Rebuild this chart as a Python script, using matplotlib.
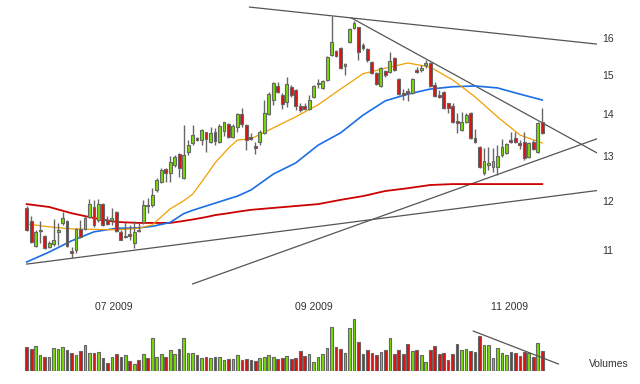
"""Daily candlesticks with moving averages, trend lines and a volume panel."""

import matplotlib

matplotlib.use("Agg")
import matplotlib.pyplot as plt
from matplotlib.ticker import NullLocator

plt.rcParams["font.family"] = ["Liberation Sans", "DejaVu Sans"]

# daily OHLC, one entry per trading day (early June to mid November 2009)
opens = [
    11.85, 11.58, 11.08, 11.38, 11.28, 11.06, 11.12, 11.36, 11.54, 11.58,
    10.98, 11.00, 11.42, 11.42, 11.66, 11.87, 11.60, 11.93, 11.60, 11.60,
    11.77, 11.36, 11.26, 11.32, 11.14, 11.40, 11.56, 11.91, 11.91, 12.23,
    12.41, 12.69, 12.61, 12.79, 13.04, 12.49, 13.08, 13.29, 13.41, 13.36,
    13.55, 13.31, 13.55, 13.31, 13.58, 13.74, 13.43, 13.67, 13.99, 13.72,
    13.43, 13.22, 13.31, 13.53, 13.99, 14.34, 14.70, 14.47, 14.29, 14.67,
    14.60, 14.19, 14.19, 14.11, 14.42, 14.75, 14.65, 14.86, 15.53, 15.64,
    15.72, 15.23, 15.89, 16.29, 16.32, 15.81, 15.69, 15.34, 15.04, 14.70,
    15.09, 15.07, 15.45, 14.88, 14.52, 14.57, 14.52, 15.12, 15.12, 15.25,
    15.31, 14.73, 14.47, 14.54, 14.26, 14.19, 13.82, 13.60, 13.79, 14.01,
    13.41, 13.20, 12.61, 12.79, 12.74, 12.74, 13.01, 13.06, 13.36, 13.41,
    13.29, 13.31, 12.97, 13.31, 13.08, 13.79,
]
highs = [
    11.89, 11.68, 11.40, 11.58, 11.30, 11.18, 11.62, 11.54, 11.77, 11.60,
    11.06, 11.44, 11.60, 11.68, 12.04, 12.02, 12.04, 11.95, 11.68, 11.85,
    11.79, 11.40, 11.56, 11.50, 11.58, 11.54, 12.02, 12.06, 12.28, 12.49,
    12.72, 12.72, 12.99, 13.01, 13.06, 13.72, 13.36, 13.72, 13.43, 13.63,
    13.55, 13.67, 13.65, 13.74, 13.79, 13.77, 13.74, 14.01, 14.14, 13.74,
    13.53, 13.31, 13.60, 14.34, 14.54, 14.80, 14.80, 14.52, 14.93, 14.73,
    14.62, 14.26, 14.26, 14.47, 14.73, 14.88, 14.86, 15.50, 16.63, 15.67,
    15.75, 15.31, 16.29, 16.49, 16.32, 15.86, 15.72, 15.36, 15.07, 15.20,
    15.12, 15.61, 15.47, 14.91, 14.62, 14.65, 14.91, 15.20, 15.25, 15.39,
    15.34, 14.80, 14.60, 14.57, 14.26, 14.26, 14.01, 14.04, 14.01, 14.04,
    13.62, 13.22, 13.17, 13.20, 13.17, 13.24, 13.38, 13.29, 13.55, 13.55,
    13.36, 13.55, 13.31, 13.36, 13.79, 14.14,
]
lows = [
    11.38, 11.14, 11.06, 11.14, 11.02, 11.04, 11.08, 11.10, 11.50, 11.06,
    10.85, 10.94, 11.24, 11.40, 11.64, 11.46, 11.56, 11.48, 11.50, 11.50,
    11.36, 11.20, 11.24, 11.20, 11.04, 11.36, 11.52, 11.75, 11.87, 12.19,
    12.38, 12.41, 12.41, 12.74, 12.52, 12.47, 13.01, 13.24, 13.34, 13.24,
    13.08, 13.29, 13.24, 13.29, 13.46, 13.41, 13.41, 13.55, 13.67, 13.13,
    13.36, 13.04, 13.24, 13.50, 13.97, 14.21, 14.52, 14.11, 14.16, 14.42,
    14.09, 14.04, 14.09, 14.09, 14.39, 14.65, 14.62, 14.83, 15.50, 15.47,
    15.15, 14.99, 15.86, 16.26, 15.39, 15.67, 15.34, 15.01, 14.73, 14.67,
    14.93, 15.04, 15.09, 14.47, 14.34, 14.32, 14.49, 15.04, 15.07, 15.17,
    14.67, 14.42, 14.39, 14.11, 14.01, 13.77, 13.53, 13.58, 13.77, 13.38,
    13.29, 12.72, 12.56, 12.67, 12.63, 12.56, 12.97, 13.04, 13.29, 13.29,
    13.15, 12.90, 12.94, 13.13, 13.06, 13.50,
]
closes = [
    11.40, 11.16, 11.36, 11.40, 11.04, 11.14, 11.20, 11.40, 11.64, 11.08,
    10.94, 11.42, 11.26, 11.64, 11.93, 11.50, 11.93, 11.50, 11.52, 11.64,
    11.38, 11.20, 11.28, 11.28, 11.36, 11.38, 11.91, 11.89, 12.12, 12.45,
    12.67, 12.61, 12.85, 12.97, 12.72, 13.01, 13.24, 13.48, 13.36, 13.60,
    13.38, 13.53, 13.34, 13.70, 13.79, 13.43, 13.70, 13.99, 13.74, 13.36,
    13.38, 13.17, 13.55, 14.01, 14.49, 14.78, 14.54, 14.24, 14.75, 14.47,
    14.19, 14.09, 14.11, 14.34, 14.70, 14.78, 14.83, 15.47, 15.89, 15.50,
    15.17, 15.28, 16.26, 16.43, 15.61, 15.72, 15.39, 15.04, 14.75, 15.17,
    14.99, 15.36, 15.12, 14.49, 14.47, 14.52, 14.88, 15.07, 15.17, 15.31,
    14.70, 14.44, 14.42, 14.14, 14.14, 13.79, 13.77, 13.79, 13.96, 13.41,
    13.31, 12.74, 12.88, 12.83, 12.88, 12.99, 13.20, 13.27, 13.31, 13.31,
    13.24, 12.94, 13.29, 13.15, 13.77, 13.53,
]
volumes = [
    237, 217, 247, 157, 137, 137, 227, 217, 237, 207,
    177, 157, 197, 257, 177, 177, 187, 127, 77, 137,
    167, 137, 157, 97, 67, 107, 167, 127, 327, 137,
    167, 137, 207, 167, 217, 327, 177, 177, 157, 127,
    137, 127, 137, 137, 107, 117, 117, 157, 107, 117,
    107, 97, 127, 137, 157, 137, 117, 127, 147, 117,
    127, 197, 147, 167, 87, 137, 167, 227, 437, 237,
    217, 177, 427, 517, 287, 167, 207, 177, 157, 187,
    207, 327, 167, 207, 167, 267, 197, 207, 157, 87,
    207, 247, 167, 177, 107, 167, 267, 207, 217, 197,
    187, 347, 257, 257, 127, 227, 177, 157, 187, 177,
    147, 187, 177, 137, 277, 197,
]

# moving averages read every few sessions
ma_days = [0, 5, 10, 15, 20, 25, 28, 32, 35, 37, 40, 42, 45, 47, 50, 55,
           60, 65, 70, 75, 80, 85, 90, 95, 100, 105, 110, 115]
ma_short = [11.52, 11.46, 11.42, 11.41, 11.40, 11.43, 11.50, 11.83, 12.00, 12.14, 12.54, 12.83,
            13.17, 13.36, 13.39, 13.65, 13.92, 14.22, 14.62, 15.02, 15.17, 15.31, 15.20, 14.86,
            14.42, 13.92, 13.48, 13.29]
ma_mid = [10.77, 10.96, 11.18, 11.36, 11.43, 11.44, 11.47, 11.55, 11.73, 11.80, 11.89, 11.95,
          12.04, 12.10, 12.23, 12.58, 12.83, 13.24, 13.53, 13.96, 14.32, 14.49, 14.62, 14.68,
          14.70, 14.65, 14.49, 14.34]
ma_long = [11.93, 11.87, 11.74, 11.64, 11.56, 11.54, 11.54, 11.54, 11.58, 11.61, 11.66, 11.70,
           11.74, 11.77, 11.81, 11.85, 11.89, 11.93, 12.02, 12.10, 12.21, 12.27, 12.34, 12.36,
           12.36, 12.36, 12.36, 12.36]

# trend lines: (start session, start price, end session, end price)
trend_lines = [
    (49.7, 16.90, 127.2, 15.83),
    (72.4, 16.58, 127.2, 13.06),
    (37.0, 10.36, 127.2, 13.39),
    (0.0, 10.73, 127.2, 12.22),
]
volume_trend = (99.6, 400, 118.6, 70)

month_pos = [19.5, 64.0, 107.8]
month_labels = ["07 2009", "09 2009", "11 2009"]
price_ticks = [11, 12, 13, 14, 15, 16]

UP = "#77dd00"
DOWN = "#dd1111"
EDGE = "#666666"
TEXT = "#333333"

fig = plt.figure(figsize=(6.4, 3.84), dpi=100)
ax = fig.add_axes([0.0333, 0.2448, 0.8995, 0.742])
axv = fig.add_axes([0.0333, 0.0339, 0.8995, 0.143])

days = list(range(len(opens)))
colors = [UP if c >= o else DOWN for o, c in zip(opens, closes)]
bottoms = [min(o, c) for o, c in zip(opens, closes)]
heights = [abs(c - o) for o, c in zip(opens, closes)]

ax.set_yscale("log")
for start, p0, end, p1 in trend_lines:
    ax.plot([start, end], [p0, p1], color="#555555", linewidth=0.9, zorder=1)
ax.plot(ma_days, ma_long, color="#cc0000", linewidth=1.3, zorder=2)
ax.plot(ma_days, ma_mid, color="#1a6ee6", linewidth=1.2, zorder=2)
ax.plot(ma_days, ma_short, color="#f0a000", linewidth=0.9, zorder=2)
ax.vlines(days, lows, highs, color=EDGE, linewidth=1.0, zorder=3)
ax.bar(days, heights, bottom=bottoms, width=0.64, color=colors, edgecolor=EDGE,
       linewidth=0.8, zorder=4)

ax.set_xlim(-1.2, 127.2)
ax.set_ylim(10.25, 16.96)
ax.yaxis.set_minor_locator(NullLocator())
ax.yaxis.tick_right()
ax.set_yticks(price_ticks)
ax.set_yticklabels([str(t) for t in price_ticks])
ax.set_xticks(month_pos)
ax.set_xticklabels(month_labels)
ax.tick_params(axis="y", length=0, pad=4, labelsize=7.5, labelcolor=TEXT)
ax.tick_params(axis="x", length=0, pad=9, labelsize=7.5, labelcolor=TEXT)
for spine in ax.spines.values():
    spine.set_visible(False)

axv.bar(days, volumes, width=0.6, color=colors, edgecolor=EDGE, linewidth=0.8)
axv.plot([volume_trend[0], volume_trend[2]], [volume_trend[1], volume_trend[3]],
         color="#555555", linewidth=0.9)
axv.set_xlim(-1.2, 127.2)
axv.set_ylim(0, 550)
axv.set_xticks([])
axv.set_yticks([])
for spine in axv.spines.values():
    spine.set_visible(False)
fig.text(0.920, 0.052, "Volumes", ha="left", va="center", fontsize=7.5, color=TEXT)

fig.savefig("out.png", dpi=100, facecolor="white")
